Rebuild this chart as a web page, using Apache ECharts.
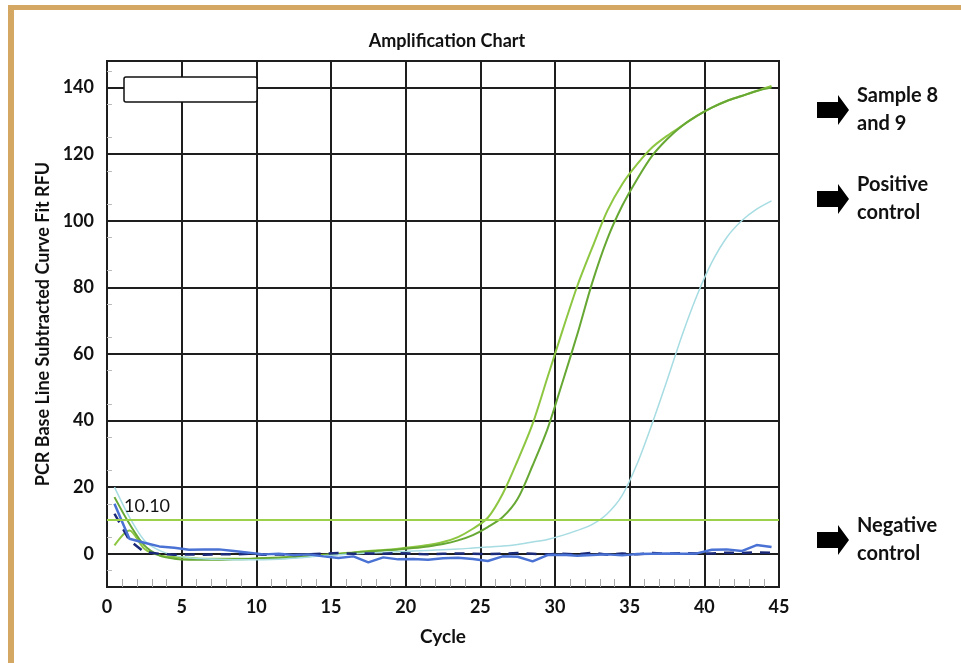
<!DOCTYPE html>
<html>
<head>
<meta charset="utf-8">
<title>Amplification Chart</title>
<script src="https://cdn.jsdelivr.net/npm/echarts@6/dist/echarts.min.js"></script>
<style>
  html, body { margin: 0; padding: 0; background: #fff; }
  #chart { width: 961px; height: 663px; }
</style>
</head>
<body>
<div id="chart"></div>
<script>
// cycle positions of the readings
const cycles = [0.5, 1.5, 2.5, 3.5, 4.5, 5.5, 6.5, 7.5, 8.5, 9.5,
  10.5, 11.5, 12.5, 13.5, 14.5, 15.5, 16.5, 17.5, 18.5, 19.5,
  20.5, 21.5, 22.5, 23.5, 24.5, 25.5, 26.5, 27.5, 28.5, 29.5,
  30.5, 31.5, 32.5, 33.5, 34.5, 35.5, 36.5, 37.5, 38.5, 39.5,
  40.5, 41.5, 42.5, 43.5, 44.5]

// sample 8 (lighter green)
const sample8 = [2.5, 7, 1.5, -0.5, -1, -1.2, -1.5, -1.5, -1.5, -1.5,
  -1.3, -1.2, -1, -0.6, -0.3, 0, 0.4, 0.8, 1.1, 1.5,
  2, 2.6, 3.5, 5, 7.5, 10.8, 18, 28, 39, 53,
  67, 80.5, 92, 103, 111, 117, 122, 125.5, 128.5, 131.5,
  134, 136, 137.5, 139, 140.5]

// sample 9 (darker green)
const sample9 = [17, 9, 2.5, -0.5, -1.5, -1.8, -1.8, -1.8, -1.7, -1.6,
  -1.4, -1.2, -1, -0.8, -0.5, -0.1, 0.3, 0.7, 1, 1.3,
  1.7, 2.2, 2.9, 4, 5.6, 8, 11, 16.5, 26.5, 37.5,
  51.5, 66, 81.5, 94.5, 104.5, 112.5, 119.5, 124.5, 128.5, 131.5,
  134, 136, 137.5, 139, 140]

// positive control (light cyan)
const positive = [20, 11, 4, 1, -0.5, -1.2, -1.5, -1.7, -1.8, -1.8,
  -1.8, -1.7, -1.4, -1, -0.6, -0.3, 0, 0.2, 0.4, 0.6,
  0.8, 1, 1.2, 1.4, 1.7, 2, 2.3, 2.8, 3.5, 4.3,
  5.5, 7, 8.8, 12, 17.5, 27, 39, 52, 65.5, 77.5,
  87.5, 95, 100, 103.5, 106]

// negative control (blue)
const negative = [15, 4.5, 3.3, 2.2, 1.8, 1.2, 1.3, 1.3, 0.8, 0.3,
  -0.2, 0, -0.4, -0.2, -0.8, -1.3, -0.8, -2.6, -1.1, -1.7,
  -1.6, -1.8, -1.4, -1.2, -1.6, -2.2, -0.8, -0.9, -2.3, -0.4,
  -0.3, -0.6, -0.4, -0.2, -0.5, -0.1, 0, 0.1, 0, 0.1,
  1.2, 1.3, 0.8, 2.6, 2]

// negative control 2 (dark navy, dashed)
const negative2 = [12, 4, 0.5, 0, -0.3, -0.2, -0.3, -0.2, -0.2, 0,
  -0.3, -0.2, -0.4, -0.2, 0, 0.2, 0, 0.1, 0, 0.2,
  0, -0.2, 0, 0.1, 0, -0.1, 0, 0.2, 0, -0.2,
  0, -0.2, 0.3, -0.3, 0.1, -0.2, 0.2, 0, 0.2, 0.1,
  0.1, 0.3, 0.2, 0.4, 0.3]

const threshold = 10.10

// labels on the right
const notes = [
  { text: 'Sample 8\nand 9', y: 110 },
  { text: 'Positive\ncontrol', y: 199 },
  { text: 'Negative\ncontrol', y: 540 }
]

const FONT = 'Lato, "Open Sans", sans-serif'
const GRID = '#1e1e1e'

// pair cycles with values
function pairs(values) {
  return values.map((v, i) => [cycles[i], v])
}

// block arrow pointing right, centred on y
function arrow(y) {
  return {
    type: 'polygon',
    shape: {
      points: [[817, y - 8], [838, y - 8], [838, y - 15], [849, y],
        [838, y + 15], [838, y + 8], [817, y + 8]]
    },
    style: { fill: '#000' }
  }
}

const chart = echarts.init(document.getElementById('chart'))

const graphics = [
  // gold frame
  { type: 'rect', shape: { x: 8, y: 5, width: 953, height: 5 }, style: { fill: '#D4A862' } },
  { type: 'rect', shape: { x: 8, y: 5, width: 6, height: 658 }, style: { fill: '#D4A862' } },
  // empty legend box
  {
    type: 'rect', shape: { x: 124, y: 77, width: 133, height: 25, r: 2 },
    style: { fill: '#fff', stroke: '#111', lineWidth: 1.5 }, z: 10
  }
]
notes.forEach(n => {
  graphics.push(arrow(n.y))
  graphics.push({
    type: 'text',
    x: 857, y: n.y,
    style: {
      text: n.text, fill: '#111', font: 'bold 20px ' + FONT,
      lineHeight: 28, verticalAlign: 'middle', align: 'left'
    }
  })
})

chart.setOption({
  animation: false,
  backgroundColor: '#fff',
  title: {
    text: 'Amplification Chart',
    left: 442, top: 27, textAlign: 'center',
    textStyle: { fontFamily: FONT, fontWeight: 'bold', fontSize: 18, color: '#111' }
  },
  grid: {
    left: 107, right: 182, top: 61, bottom: 76,
    show: true, borderColor: GRID, borderWidth: 2
  },
  xAxis: {
    type: 'value', min: 0, max: 45, interval: 5,
    name: 'Cycle', nameLocation: 'middle', nameGap: 40,
    nameTextStyle: { fontFamily: FONT, fontWeight: 'bold', fontSize: 19, color: '#111' },
    axisLine: { onZero: false, lineStyle: { color: GRID, width: 2 } },
    axisTick: { show: false },
    minorTick: { show: true, splitNumber: 5, length: -8, lineStyle: { color: '#aaa' } },
    axisLabel: { fontFamily: FONT, fontWeight: 'bold', fontSize: 18, color: '#111', margin: 11 },
    splitLine: { lineStyle: { color: GRID, width: 2 } }
  },
  yAxis: {
    type: 'value', min: -10, max: 148, interval: 10,
    name: 'PCR Base Line Subtracted Curve Fit RFU', nameLocation: 'middle', nameGap: 52,
    nameTextStyle: { fontFamily: FONT, fontWeight: 'bold', fontSize: 18, color: '#111' },
    axisLine: { show: true, onZero: false, lineStyle: { color: GRID, width: 2 } },
    axisTick: { show: false },
    minorTick: { show: true, splitNumber: 2, length: -5, lineStyle: { color: '#bbb' } },
    axisLabel: {
      fontFamily: FONT, fontWeight: 'bold', fontSize: 18, color: '#111', margin: 13,
      formatter: v => (v >= 0 && v % 20 === 0) ? String(v) : ''
    },
    splitLine: { lineStyle: { color: ['transparent', GRID], width: 2 } }
  },
  graphic: graphics,
  series: [
    {
      name: 'Threshold', type: 'line', data: [], silent: true,
      markLine: {
        symbol: 'none', silent: true,
        lineStyle: { color: '#9BD14B', width: 2, type: 'solid' },
        label: {
          position: 'insideStartTop', formatter: threshold.toFixed(2),
          fontFamily: FONT, fontSize: 18, color: '#111', padding: [0, 0, 0, 12]
        },
        data: [{ yAxis: threshold }]
      }
    },
    {
      name: 'Sample 8', type: 'line', data: pairs(sample8), showSymbol: false,
      smooth: 0.3, lineStyle: { color: '#8DC641', width: 2 }
    },
    {
      name: 'Sample 9', type: 'line', data: pairs(sample9), showSymbol: false,
      smooth: 0.3, lineStyle: { color: '#66A833', width: 2 }
    },
    {
      name: 'Positive control', type: 'line', data: pairs(positive), showSymbol: false,
      smooth: 0.3, lineStyle: { color: '#A6DCE2', width: 1.5 }
    },
    {
      name: 'Negative control 2', type: 'line', data: pairs(negative2), showSymbol: false,
      lineStyle: { color: '#1B2A78', width: 2.5, type: [10, 8] }
    },
    {
      name: 'Negative control', type: 'line', data: pairs(negative), showSymbol: false,
      lineStyle: { color: '#4A72D4', width: 2.5 }
    }
  ]
})
</script>
</body>
</html>
